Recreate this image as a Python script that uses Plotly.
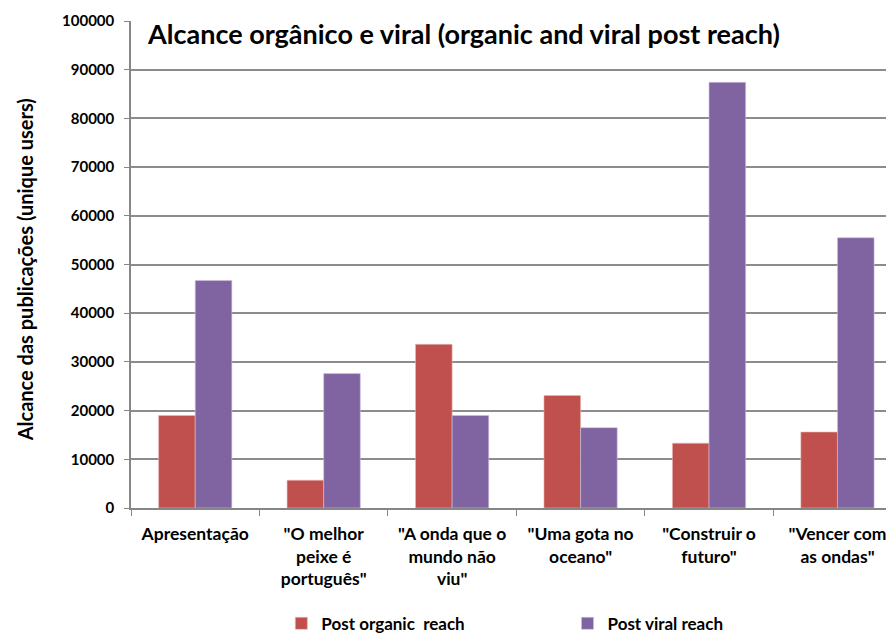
import plotly.graph_objects as go

# Post reach per publication
POSTS = [
    'Apresentação',
    '"O melhor<br>peixe é<br>português"',
    '"A onda que o<br>mundo não<br>viu"',
    '"Uma gota no<br>oceano"',
    '"Construir o<br>futuro"',
    '"Vencer com<br>as ondas"',
]
ORGANIC_REACH = [19000, 5700, 33600, 23100, 13300, 15600]
VIRAL_REACH = [46700, 27600, 19000, 16500, 87400, 55500]
Y_TICKS = [0, 10000, 20000, 30000, 40000, 50000, 60000, 70000, 80000, 90000, 100000]

FONT = 'Lato'

fig = go.Figure()

fig.add_trace(go.Bar(
    x=POSTS, y=ORGANIC_REACH,
    name='Post organic  reach',
    marker=dict(color='#C0504D', line=dict(color='#E6B9B8', width=0.6)),
    legend='legend',
))
fig.add_trace(go.Bar(
    x=POSTS, y=VIRAL_REACH,
    name='Post viral reach',
    marker=dict(color='#8064A2', line=dict(color='#CCC1DA', width=0.6)),
    legend='legend2',
))

# chart title sits inside the plot area
fig.add_annotation(
    xref='paper', yref='paper', x=0.018, y=1.012,
    xanchor='left', yanchor='top',
    text='<b>Alcance orgânico e viral (organic and viral post reach)</b>',
    showarrow=False,
    font=dict(family=FONT, size=27, color='black'),
)
# y axis title as annotation so it can sit at the far left
fig.add_annotation(
    xref='paper', yref='paper', x=-0.139, y=0.49,
    xanchor='center', yanchor='middle', textangle=-90,
    text='<b>Alcance das publicações (unique users)</b>',
    showarrow=False,
    font=dict(family=FONT, size=20, color='black'),
)

legend_style = dict(
    orientation='h', xref='container', yref='container',
    xanchor='left', yanchor='middle', y=0.021,
    font=dict(family=FONT, size=17, color='black', weight='bold'),
    itemwidth=30, bgcolor='rgba(0,0,0,0)',
)

# page body has an 8px margin, so the figure is shrunk by 8px
fig.update_layout(
    width=886, height=629,
    paper_bgcolor='white', plot_bgcolor='white',
    font=dict(family=FONT, size=14, color='black'),
    barmode='group',
    bargap=0.43, bargroupgap=0,
    margin=dict(l=123, r=0, t=13, b=129, autoexpand=False),
    showlegend=True,
    legend=dict(legend_style, x=0.3085),
    legend2=dict(legend_style, x=0.6315),
)

fig.update_xaxes(
    range=[-0.5, 5.44], automargin=False,
    showline=True, linecolor='#868686', linewidth=1.5,
    ticks='outside', tickson='boundaries', ticklen=6, tickcolor='#868686',
    tickfont=dict(family=FONT, size=17.5, color='black', weight='bold'),
    ticklabelstandoff=9,
    showgrid=False,
)
fig.update_yaxes(
    range=[0, 100000], automargin=False,
    tickvals=Y_TICKS, tickformat='d',
    showline=True, linecolor='#868686', linewidth=1.5,
    ticks='outside', ticklen=5, tickcolor='#868686',
    showgrid=True, gridcolor='#8C8C8C', gridwidth=1.5,
    tickfont=dict(family=FONT, size=15, color='black', weight='bold'),
    ticklabelstandoff=7,
    zeroline=False,
)

fig.write_html("out.html")
